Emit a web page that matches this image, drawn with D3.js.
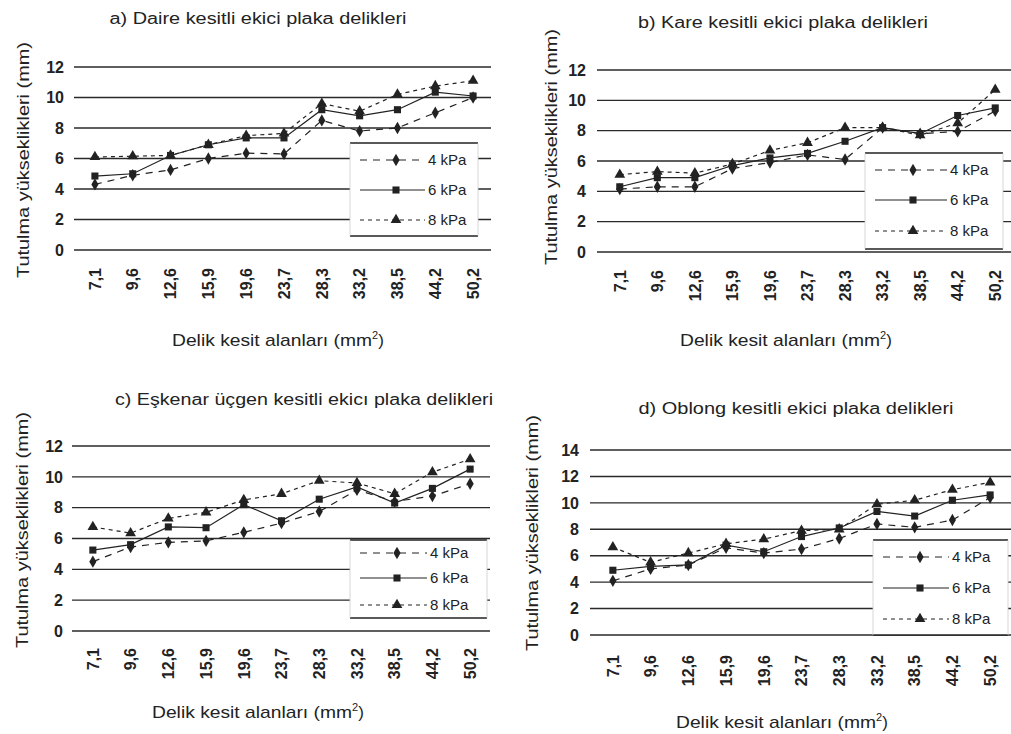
<!DOCTYPE html>
<html>
<head>
<meta charset="utf-8">
<script src="https://cdn.jsdelivr.net/npm/d3@7"></script>
<style>
  body { margin: 0; background: #fff; }
  svg { display: block; }
  text { font-family: "Liberation Sans", Arial, sans-serif; fill: #222; }
</style>
</head>
<body>
<svg id="chart" width="1011" height="734"></svg>
<script>
// hole cross-section areas (mm2)
const categories = ['7,1', '9,6', '12,6', '15,9', '19,6', '23,7', '28,3', '33,2', '38,5', '44,2', '50,2'];
const seriesNames = ['4 kPa', '6 kPa', '8 kPa'];

const yTicks12 = [0, 2, 4, 6, 8, 10, 12];
const yTicks14 = [0, 2, 4, 6, 8, 10, 12, 14];

const titles = [
  'a) Daire kesitli ekici plaka delikleri',
  'b) Kare kesitli ekici plaka delikleri',
  'c) Eşkenar üçgen kesitli ekicı plaka delikleri',
  'd) Oblong kesitli ekici plaka delikleri'
];
const yTitle = 'Tutulma yükseklikleri (mm)';
const xTitle = 'Delik kesit alanları (mm';

// a) circle holes
const daire4 = [4.3, 4.9, 5.25, 6.0, 6.35, 6.3, 8.5, 7.8, 8.0, 9.0, 10.0];
const daire6 = [4.85, 5.0, 6.2, 6.9, 7.35, 7.35, 9.2, 8.8, 9.2, 10.35, 10.1];
const daire8 = [6.1, 6.15, 6.2, 6.9, 7.5, 7.65, 9.6, 9.1, 10.2, 10.75, 11.1];

// b) square holes
const kare4 = [4.15, 4.3, 4.3, 5.5, 5.9, 6.4, 6.1, 8.2, 7.8, 7.95, 9.3];
const kare6 = [4.3, 4.9, 4.9, 5.7, 6.2, 6.5, 7.3, 8.2, 7.8, 9.0, 9.5];
const kare8 = [5.1, 5.3, 5.2, 5.8, 6.7, 7.2, 8.2, 8.2, 7.7, 8.5, 10.7];

// c) equilateral triangle holes
const ucgen4 = [4.5, 5.45, 5.75, 5.85, 6.4, 7.0, 7.75, 9.15, 8.4, 8.75, 9.55];
const ucgen6 = [5.25, 5.6, 6.75, 6.7, 8.2, 7.15, 8.55, 9.35, 8.3, 9.25, 10.5];
const ucgen8 = [6.75, 6.35, 7.3, 7.7, 8.5, 8.9, 9.75, 9.6, 8.9, 10.3, 11.15];

// d) oblong holes
const oblong4 = [4.1, 5.0, 5.3, 6.6, 6.2, 6.5, 7.3, 8.4, 8.15, 8.7, 10.4];
const oblong6 = [4.9, 5.2, 5.3, 6.8, 6.3, 7.45, 8.1, 9.35, 9.0, 10.2, 10.6];
const oblong8 = [6.65, 5.5, 6.2, 6.9, 7.25, 7.9, 8.0, 9.9, 10.2, 11.0, 11.55];

const svg = d3.select('#chart');
const ink = '#222';

const seriesStyle = [
  { symbol: d3.symbolDiamond, size: 44, dash: '7,6' },
  { symbol: d3.symbolSquare, size: 50, dash: null },
  { symbol: d3.symbolTriangle, size: 50, dash: '4,4' }
];

function drawPanel(p) {
  const g = svg.append('g');
  const x = d3.scaleBand().domain(categories).range([p.bandL, p.bandR]);
  const y = d3.scaleLinear().domain([0, d3.max(p.ticks)]).range([p.y0, p.yTop]);

  // gridlines
  g.selectAll('.grid')
    .data(p.ticks)
    .enter()
    .append('line')
    .attr('x1', p.gridL)
    .attr('x2', p.gridR)
    .attr('y1', d => y(d))
    .attr('y2', d => y(d))
    .attr('stroke', '#2a2a2a')
    .attr('stroke-width', 1.4);

  // y tick labels
  g.selectAll('.ytick')
    .data(p.ticks)
    .enter()
    .append('text')
    .attr('x', p.tickX)
    .attr('y', d => y(d))
    .attr('dy', '0.36em')
    .attr('text-anchor', 'end')
    .style('font-size', '16px')
    .style('font-weight', 'bold')
    .text(d => d);

  // x tick labels, rotated
  g.selectAll('.xtick')
    .data(categories)
    .enter()
    .append('text')
    .attr('transform', d => `translate(${x(d) + x.bandwidth() / 2},${p.xLabY}) rotate(-90)`)
    .attr('dy', '0.36em')
    .attr('text-anchor', 'end')
    .style('font-size', '16px')
    .style('font-weight', 'bold')
    .text(d => d);

  // lines + markers
  const line = d3.line()
    .x((d, i) => x(categories[i]) + x.bandwidth() / 2)
    .y(d => y(d));

  p.series.forEach((vals, k) => {
    const st = seriesStyle[k];
    g.append('path')
      .datum(vals)
      .attr('d', line)
      .attr('fill', 'none')
      .attr('stroke', ink)
      .attr('stroke-width', 1.2)
      .attr('stroke-dasharray', st.dash);
    g.selectAll('.pt' + k)
      .data(vals)
      .enter()
      .append('path')
      .attr('transform', (d, i) => `translate(${x(categories[i]) + x.bandwidth() / 2},${y(d)})`)
      .attr('d', d3.symbol().type(st.symbol).size(st.size))
      .attr('fill', ink);
  });

  // legend
  const lg = g.append('g');
  lg.append('rect')
    .attr('x', p.leg.x)
    .attr('y', p.leg.y)
    .attr('width', p.leg.w)
    .attr('height', p.leg.h)
    .attr('fill', '#fff');
  lg.append('line')
    .attr('x1', p.leg.x).attr('x2', p.leg.x + p.leg.w)
    .attr('y1', p.leg.y).attr('y2', p.leg.y)
    .attr('stroke', ink).attr('stroke-width', 1.3);
  lg.append('line')
    .attr('x1', p.leg.x).attr('x2', p.leg.x + p.leg.w)
    .attr('y1', p.leg.y + p.leg.h).attr('y2', p.leg.y + p.leg.h)
    .attr('stroke', ink).attr('stroke-width', 1.3);
  [p.leg.x, p.leg.x + p.leg.w].forEach(lx => {
    lg.append('line')
      .attr('x1', lx).attr('x2', lx)
      .attr('y1', p.leg.y).attr('y2', p.leg.y + p.leg.h)
      .attr('stroke', '#ccc').attr('stroke-width', 0.8);
  });
  const items = lg.selectAll('.item')
    .data(seriesNames)
    .enter()
    .append('g')
    .attr('transform', (d, i) => `translate(0,${p.leg.rows[i]})`);
  items.append('line')
    .attr('x1', p.leg.x + 10)
    .attr('x2', p.leg.textX - 3)
    .attr('stroke', ink)
    .attr('stroke-width', 1.2)
    .attr('stroke-dasharray', (d, i) => seriesStyle[i].dash);
  items.append('path')
    .attr('transform', `translate(${p.leg.symX},0)`)
    .attr('d', (d, i) => d3.symbol().type(seriesStyle[i].symbol).size(seriesStyle[i].size)())
    .attr('fill', ink);
  items.append('text')
    .attr('x', p.leg.textX)
    .attr('dy', '0.36em')
    .style('font-size', '15px')
    .text(d => d);

  // titles
  g.append('text')
    .attr('x', p.titleX)
    .attr('y', p.titleY)
    .attr('text-anchor', 'middle')
    .attr('textLength', p.titleLen)
    .attr('lengthAdjust', 'spacingAndGlyphs')
    .style('font-size', '16px')
    .text(p.title);
  g.append('text')
    .attr('transform', `translate(${p.yTitleX},${p.yTitleY}) rotate(-90)`)
    .attr('dy', '0.36em')
    .attr('text-anchor', 'middle')
    .attr('textLength', 236)
    .attr('lengthAdjust', 'spacingAndGlyphs')
    .style('font-size', '17px')
    .text(yTitle);
  const xt = g.append('text')
    .attr('x', p.xTitleX - 110)
    .attr('y', p.xTitleY)
    .style('font-size', '17px');
  xt.append('tspan')
    .attr('textLength', 200)
    .attr('lengthAdjust', 'spacingAndGlyphs')
    .text(xTitle);
  xt.append('tspan').attr('dy', '-7').style('font-size', '11px').text('2');
  xt.append('tspan').attr('dy', '7').text(')');
}

drawPanel({
  title: titles[0], titleLen: 297, series: [daire4, daire6, daire8], ticks: yTicks12,
  bandL: 76, bandR: 492, gridL: 74, gridR: 491, y0: 250, yTop: 67,
  tickX: 64, xLabY: 268,
  leg: { x: 350, y: 143, w: 128, h: 93, rows: [160, 190, 220], symX: 396, textX: 428 },
  titleX: 258, titleY: 24, yTitleX: 23, yTitleY: 160, xTitleX: 282, xTitleY: 346
});

drawPanel({
  title: titles[1], titleLen: 290, series: [kare4, kare6, kare8], ticks: yTicks12,
  bandL: 601, bandR: 1014, gridL: 597, gridR: 1011, y0: 252, yTop: 70,
  tickX: 586, xLabY: 270,
  leg: { x: 865, y: 153, w: 138, h: 96, rows: [170, 200, 231], symX: 913, textX: 950 },
  titleX: 783, titleY: 28, yTitleX: 551, yTitleY: 147, xTitleX: 790, xTitleY: 346
});

drawPanel({
  title: titles[2], titleLen: 378, series: [ucgen4, ucgen6, ucgen8], ticks: yTicks12,
  bandL: 74, bandR: 489, gridL: 72, gridR: 490, y0: 631, yTop: 446,
  tickX: 63, xLabY: 648,
  leg: { x: 350, y: 540, w: 137, h: 78, rows: [553, 578, 605], symX: 397, textX: 430 },
  titleX: 304, titleY: 405, yTitleX: 22, yTitleY: 530, xTitleX: 262, xTitleY: 718
});

drawPanel({
  title: titles[3], titleLen: 315, series: [oblong4, oblong6, oblong8], ticks: yTicks14,
  bandL: 594, bandR: 1009, gridL: 590, gridR: 1011, y0: 635, yTop: 450,
  tickX: 579, xLabY: 655,
  leg: { x: 873, y: 540, w: 135, h: 95, rows: [557, 588, 619], symX: 920, textX: 952 },
  titleX: 796, titleY: 414, yTitleX: 532, yTitleY: 533, xTitleX: 786, xTitleY: 728
});
</script>
</body>
</html>
